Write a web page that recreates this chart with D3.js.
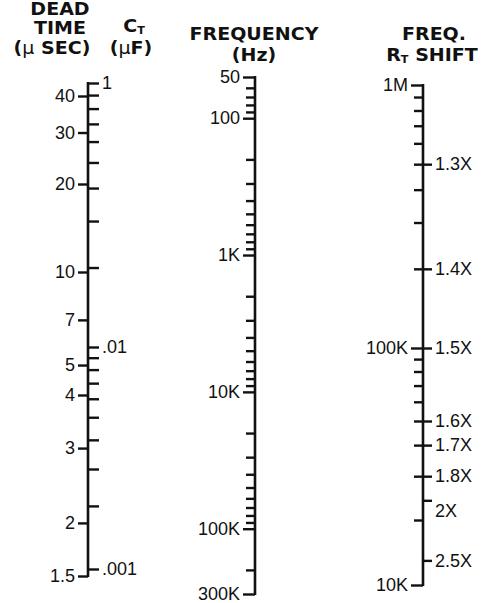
<!DOCTYPE html>
<html>
<head>
<meta charset="utf-8">
<script src="https://cdn.jsdelivr.net/npm/d3@7"></script>
<style>
  body { margin: 0; background: #fff; }
  text { font-family: "Liberation Sans", Arial, sans-serif; fill: #111; }
  .head text { font-family: "DejaVu Sans", sans-serif; font-weight: bold; font-size: 17px; }
</style>
</head>
<body>
<svg id="chart" width="495" height="603"></svg>
<script>
// --- dead time (us) / C_T (uF) axis
const deadTime = [40, 30, 20, 10, 7, 5, 4, 3, 2, 1.5]
const ctMajor = [0.1, 0.01, 0.001]
const ctMajorLabels = ['1', '.01', '.001']
const ctMinor = [0.09, 0.08, 0.07, 0.06, 0.05, 0.04, 0.03, 0.02,
  0.009, 0.008, 0.007, 0.006, 0.005, 0.004, 0.003, 0.002]

// --- frequency (Hz) axis
const freqMajor = [50, 100, 1000, 10000, 100000, 300000]
const freqMajorLabels = ['50', '100', '1K', '10K', '100K', '300K']
const freqMinor = [60, 70, 80, 90,
  200, 300, 400, 500, 600, 700, 800, 900,
  2000, 3000, 4000, 5000, 6000, 7000, 8000, 9000,
  20000, 30000, 40000, 50000, 60000, 70000, 80000, 90000, 200000]

// --- freq. / R_T shift axis
const rtFreqMajor = [1e6, 1e5, 1e4]
const rtFreqMajorLabels = ['1M', '100K', '10K']
const rtFreqMinor = [900e3, 800e3, 700e3, 600e3, 500e3, 400e3, 300e3, 200e3,
  90e3, 80e3, 70e3, 60e3, 50e3, 40e3, 30e3, 20e3]
const shiftLabels = ['1.3X', '1.4X', '1.5X', '1.6X', '1.7X', '1.8X', '2X', '2.5X']
const shiftFreq = [500e3, 200e3, 100e3, 50e3, 40e3, 30e3, 24e3, 13e3]

const svg = d3.select('#chart')

const X_LEFT = 88
const X_MID = 255
const X_RIGHT = 423

// nomograph scales are not pure log, so they are piecewise log
const yDead = d3.scaleLog().domain([40, 10, 4, 1.5]).range([96, 272, 395, 576])
const yCt = d3.scaleLog().domain([0.1, 0.01, 0.003, 0.001]).range([83, 347, 469, 569])
const yFreq = d3.scaleLog().domain([50, 300000]).range([77, 594])
const yRt = d3.scaleLog().domain([1e6, 1e5, 5e4, 2e4, 1e4]).range([85, 348, 421, 520, 585])

// same look for every axis
function styleAxis(g) {
  g.select('.domain').remove()
  g.selectAll('line').attr('stroke', '#111').attr('stroke-width', 2.4)
  g.selectAll('text').attr('font-size', 18).attr('font-family', '"Liberation Sans", Arial, sans-serif')
}

function axisLine(x, y0, y1) {
  svg.append('line')
    .attr('x1', x).attr('x2', x)
    .attr('y1', y0).attr('y2', y1)
    .attr('stroke', '#111').attr('stroke-width', 2.6)
}

// left axis
axisLine(X_LEFT, yCt(0.1) - 1, yDead(1.5) + 1)

svg.append('g')
  .attr('transform', `translate(${X_LEFT},0)`)
  .call(d3.axisLeft(yDead).tickValues(deadTime).tickFormat(d => d).tickSize(10).tickPadding(3))
  .call(styleAxis)

svg.append('g')
  .attr('transform', `translate(${X_LEFT},0)`)
  .call(d3.axisRight(yCt).tickValues(ctMinor).tickFormat('').tickSize(11))
  .call(styleAxis)

svg.append('g')
  .attr('transform', `translate(${X_LEFT},0)`)
  .call(d3.axisRight(yCt).tickValues(ctMajor).tickFormat((d, i) => ctMajorLabels[i]).tickSize(11).tickPadding(3))
  .call(styleAxis)

// middle axis
axisLine(X_MID, yFreq(50) - 1, yFreq(300000) + 1)

svg.append('g')
  .attr('transform', `translate(${X_MID},0)`)
  .call(d3.axisLeft(yFreq).tickValues(freqMinor).tickFormat('').tickSize(9))
  .call(styleAxis)

svg.append('g')
  .attr('transform', `translate(${X_MID},0)`)
  .call(d3.axisLeft(yFreq).tickValues(freqMajor).tickFormat((d, i) => freqMajorLabels[i]).tickSize(12).tickPadding(3))
  .call(styleAxis)

// right axis
axisLine(X_RIGHT, yRt(1e6) - 1, yRt(1e4) + 1)

svg.append('g')
  .attr('transform', `translate(${X_RIGHT},0)`)
  .call(d3.axisLeft(yRt).tickValues(rtFreqMinor).tickFormat('').tickSize(9))
  .call(styleAxis)

svg.append('g')
  .attr('transform', `translate(${X_RIGHT},0)`)
  .call(d3.axisLeft(yRt).tickValues(rtFreqMajor).tickFormat((d, i) => rtFreqMajorLabels[i]).tickSize(12).tickPadding(3))
  .call(styleAxis)

const shiftAxis = svg.append('g')
  .attr('transform', `translate(${X_RIGHT},0)`)
  .call(d3.axisRight(yRt).tickValues(shiftFreq).tickFormat((d, i) => shiftLabels[i]).tickSize(9).tickPadding(3))
  .call(styleAxis)
// "2X" sits a little under its tick
shiftAxis.selectAll('.tick text').filter((d, i) => shiftLabels[i] === '2X').attr('dy', '0.9em')

// headings, heavy and a bit wide like the original lettering
const head = svg.append('g').attr('class', 'head')
function headText(x, y) {
  return head.append('g')
    .attr('transform', `translate(${x},${y}) scale(1.12,1)`)
    .append('text').attr('text-anchor', 'middle')
}
function withSub(t, main, sub, rest) {
  t.append('tspan').text(main)
  t.append('tspan').attr('font-size', 10).attr('dy', 2).text(sub)
  if (rest) t.append('tspan').attr('dy', -2).text(rest)
}
function withMu(t, after) {
  t.append('tspan').text('(')
  t.append('tspan').attr('font-weight', 'normal').text('μ')
  t.append('tspan').text(after)
}

headText(60, 15).text('DEAD')
headText(60, 34).text('TIME')
withMu(headText(52, 54), ' SEC)')
withSub(headText(134, 32), 'C', 'T')
withMu(headText(131, 54), 'F)')

headText(254, 40).text('FREQUENCY')
headText(254, 61).text('(Hz)')
headText(434, 40).text('FREQ.')
withSub(headText(432, 61), 'R', 'T', ' SHIFT')
</script>
</body>
</html>
